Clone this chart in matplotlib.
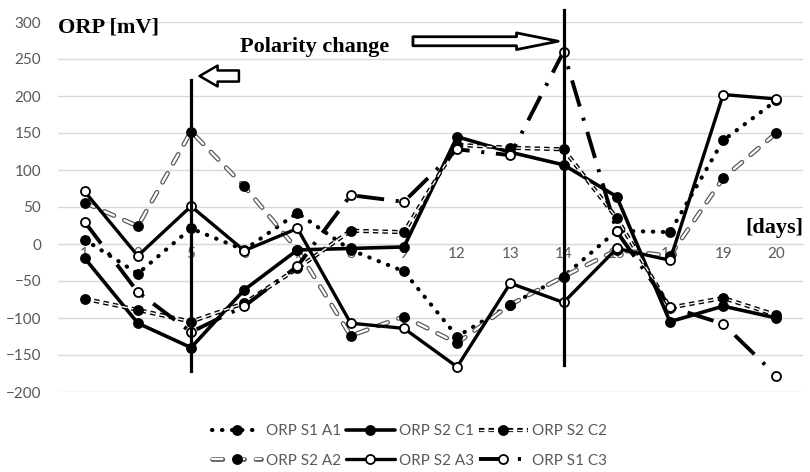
import matplotlib
matplotlib.use("Agg")
import matplotlib.pyplot as plt
import matplotlib.patheffects as pe
from matplotlib.legend_handler import HandlerTuple

plt.rcParams["font.family"] = ["Lato", "DejaVu Sans"]

days = ["1", "2", "5", "6", "7", "8", "9", "12", "13", "14", "15", "16", "19", "20"]

orp_s1_a1 = [6, -40, 21, -8, 42, -8, -37, -125, -82, -44, 18, 16, 140, 194]
orp_s2_c1 = [-19, -107, -140, -62, -8, -6, -4, 145, 124, 107, 64, -105, -84, -100]
orp_s2_c2 = [-74, -89, -105, -80, -33, 18, 16, 134, 130, 128, 35, -86, -73, -96]
orp_s2_a2 = [56, 24, 152, 78, -8, -124, -98, -134, -82, -44, -8, -16, 89, 150]
orp_s2_a3 = [71, -16, 51, -9, 21, -107, -114, -166, -53, -79, -6, -22, 202, 196]
orp_s1_c3 = [30, -65, -119, -84, -30, 66, 57, 128, 120, 260, 17, -85, -108, -178]

# polarity change markers: (day, bottom, top)
polarity = [("5", -172, 221), ("14", -163, 316)]

x = list(range(len(days)))

fig = plt.figure(figsize=(8.1, 4.72), dpi=100)
ax = fig.add_axes([58 / 810, 1 - 392 / 472, 745 / 810, 370 / 472])

ax.set_xlim(-0.5, len(days) - 0.5)
ax.set_ylim(-200, 300)
ax.set_yticks(range(-200, 301, 50))
ax.grid(axis="y", color="#d9d9d9", lw=1)
ax.set_axisbelow(True)
for side in ("top", "right", "left"):
    ax.spines[side].set_visible(False)
ax.spines["bottom"].set_position(("data", 0))
ax.spines["bottom"].set_color("#d9d9d9")
ax.set_xticks(x)
ax.set_xticklabels(days)
ax.tick_params(axis="x", length=0, pad=2, labelsize=11, labelcolor="#595959")
ax.tick_params(axis="y", length=0, pad=12, labelsize=11, labelcolor="#595959")


def draw(y, ls, lw, face, color="black", effects=None, cap="butt"):
    line, = ax.plot(x, y, color=color, lw=lw, linestyle=ls, dash_capstyle=cap,
                    solid_capstyle="round", path_effects=effects, zorder=3)
    pts, = ax.plot(x, y, ls="none", marker="o", ms=6.5, mfc=face, mec="black",
                   mew=1.3, zorder=4)
    return (line, pts)


h_a1 = draw(orp_s1_a1, (0, (0.1, 2.3)), 3, "black", cap="round")
h_c1 = draw(orp_s2_c1, "-", 2.6, "black")
h_c2 = draw(orp_s2_c2, (0, (1.3, 1.0)), 3, "black",
            effects=[pe.Normal(), pe.Stroke(linewidth=1.0, foreground="white")])
h_a2 = draw(orp_s2_a2, (0, (2.2, 2.4)), 3.4, "black", color="#595959", cap="round",
            effects=[pe.Normal(), pe.Stroke(linewidth=1.6, foreground="white")])
h_a3 = draw(orp_s2_a3, "-", 2.4, "white")
h_c3 = draw(orp_s1_c3, (0, (7, 3, 0.8, 3)), 2.8, "white")

for day, lo, hi in polarity:
    i = days.index(day)
    ax.plot([i, i], [lo, hi], color="black", lw=2.3, zorder=6, clip_on=False)

# hollow arrows
ax.annotate("", xy=(2.16, 227), xytext=(2.9, 227),
            arrowprops=dict(arrowstyle="simple,head_length=1.3,head_width=1.5,tail_width=0.8",
                            fc="white", ec="black", lw=1.8, mutation_scale=10,
                            shrinkA=0, shrinkB=0))
ax.annotate("", xy=(8.9, 274), xytext=(6.17, 274), annotation_clip=False,
            arrowprops=dict(arrowstyle="simple,head_length=3.0,head_width=1.2,tail_width=0.65",
                            fc="white", ec="black", lw=2.0, mutation_scale=10,
                            shrinkA=0, shrinkB=0))

serif = dict(family="Liberation Serif", weight="bold", color="black", fontsize=16)
ax.text(-0.5, 292, "ORP [mV]", ha="left", va="center", **serif)
ax.text(2.92, 266, "Polarity change", ha="left", va="center", **serif)
ax.text(13.5, 22, "[days]", ha="right", va="center", clip_on=False, **serif)

handles = [h_a1, h_a2, h_c1, h_a3, h_c2, h_c3]
labels = ["ORP S1 A1", "ORP S2 A2", "ORP S2 C1", "ORP S2 A3", "ORP S2 C2", "ORP S1 C3"]
fig.legend(handles, labels, loc="center", bbox_to_anchor=(0.506, 0.055), ncol=3,
           frameon=False, fontsize=11, labelcolor="#595959", handlelength=3.2,
           handletextpad=0.3, columnspacing=0.3, labelspacing=1.0,
           handler_map={tuple: HandlerTuple(ndivide=1)})

fig.savefig("out.png", dpi=100)
